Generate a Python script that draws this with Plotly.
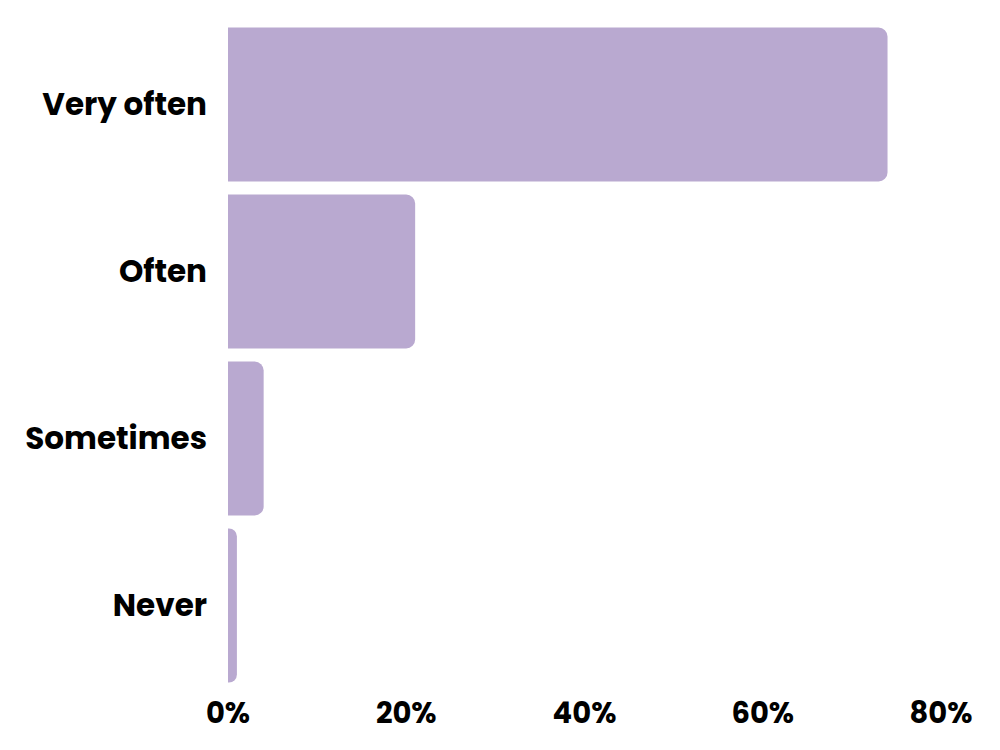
import plotly.graph_objects as go

categories = ["Very often", "Often", "Sometimes", "Never"]
values = [74, 21, 4, 1]
tick_vals = [0, 20, 40, 60, 80]
tick_text = ["0%", "20%", "40%", "60%", "80%"]

fig = go.Figure(
    go.Bar(
        x=values,
        y=categories,
        orientation="h",
        marker=dict(color="#B9A9D0", cornerradius=9, line=dict(width=0)),
        hoverinfo="skip",
    )
)

font_family = "Poppins, Inter, 'Open Sans', sans-serif"

fig.update_layout(
    width=1000,
    height=750,
    margin=dict(l=219.5, r=66.5, t=12.5, b=68.5, autoexpand=False),
    paper_bgcolor="white",
    plot_bgcolor="white",
    bargap=0.078,
    showlegend=False,
    font=dict(family=font_family, color="#000000"),
)
fig.update_xaxes(
    range=[0, 80],
    tickvals=tick_vals,
    ticktext=tick_text,
    showgrid=False,
    zeroline=False,
    showline=False,
    ticks="",
    tickfont=dict(size=29, family=font_family, weight=700, color="#000000"),
    ticklabelstandoff=4,
)
fig.update_yaxes(
    categoryorder="array",
    categoryarray=categories[::-1],
    showgrid=False,
    zeroline=False,
    showline=False,
    ticks="",
    tickfont=dict(size=31, family=font_family, weight=700, color="#000000"),
    ticklabelstandoff=20,
)

fig.write_html("out.html")
